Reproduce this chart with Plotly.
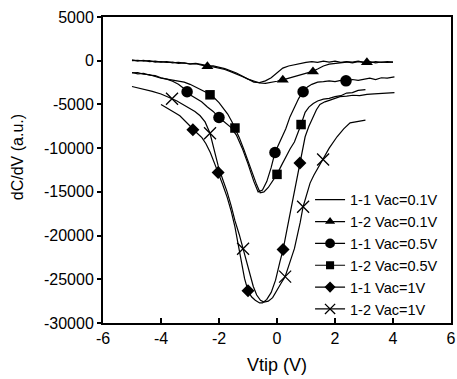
import plotly.graph_objects as go

# ---------------- data ----------------
x_11_01 = [-5.0,-4.8,-4.6,-4.4,-4.2,-4.0,-3.8,-3.6,-3.4,-3.2,-3.0,-2.8,-2.6,-2.4,-2.2,-2.0,-1.8,-1.6,-1.4,-1.2,-1.0,-0.8,-0.6,-0.4,-0.2,0.0,0.2,0.4,0.6,0.8,1.0,1.2,1.4,1.6,1.8,2.0,2.2,2.4,2.6,2.8,3.0,3.2,3.4,3.6,3.8,4.0]
y_11_01 = [100,-50,50,-100,-50,-150,-100,-250,-200,-300,-350,-300,-450,-550,-600,-750,-900,-1150,-1400,-1750,-2100,-2450,-2500,-2300,-1950,-1400,-850,-600,-450,-350,-200,-100,-200,-50,-150,-50,-200,-100,-150,-50,-200,-100,-250,-150,-200,-150]

x_12_01 = [-5.0,-4.8,-4.6,-4.4,-4.2,-4.0,-3.8,-3.6,-3.4,-3.2,-3.0,-2.8,-2.6,-2.4,-2.2,-2.0,-1.8,-1.6,-1.4,-1.2,-1.0,-0.8,-0.6,-0.4,-0.2,0.0,0.2,0.4,0.6,0.8,1.0,1.2,1.4,1.6,1.8,2.0,2.2,2.4,2.6,2.8,3.0,3.2,3.4,3.6,3.8,4.0]
y_12_01 = [0,50,-50,0,-150,-100,-200,-150,-300,-250,-400,-350,-500,-650,-700,-850,-1000,-1250,-1500,-1800,-2100,-2350,-2550,-2600,-2500,-2350,-2200,-2000,-1800,-1600,-1450,-1250,-950,-600,-400,-300,-250,-150,-250,-100,-200,-250,-100,-200,-100,-150]
mx_12_01 = [-2.4, 0.2, 1.24, 3.1]
my_12_01 = [-650, -2200, -1250, -200]

x_11_05 = [-5.0,-4.8,-4.6,-4.4,-4.2,-4.0,-3.8,-3.6,-3.4,-3.2,-3.0,-2.8,-2.6,-2.4,-2.2,-2.0,-1.8,-1.6,-1.4,-1.2,-1.0,-0.8,-0.65,-0.5,-0.35,-0.2,-0.07,0.1,0.3,0.45,0.6,0.75,0.9,1.05,1.2,1.4,1.6,1.8,2.0,2.2,2.4,2.6,2.8,3.0,3.2,3.4,3.6,3.8,4.05]
y_11_05 = [-1350,-1500,-1450,-1650,-1700,-1950,-2100,-2350,-2700,-3200,-3900,-4300,-4700,-5300,-5800,-6500,-7000,-7600,-8500,-10000,-11800,-13800,-15000,-14800,-13800,-12200,-10500,-9300,-7800,-6400,-5300,-4300,-3550,-3000,-2700,-2450,-2400,-2300,-2400,-2250,-2300,-2150,-2250,-2100,-2000,-2150,-1950,-2000,-1850]
mx_11_05 = [-3.1, -2.0, -0.07, 0.9, 2.38]
my_11_05 = [-3550, -6500, -10500, -3550, -2300]

x_12_05 = [-5.0,-4.8,-4.6,-4.4,-4.2,-4.0,-3.8,-3.6,-3.4,-3.2,-3.0,-2.8,-2.6,-2.45,-2.31,-2.15,-2.0,-1.85,-1.7,-1.55,-1.45,-1.3,-1.15,-1.0,-0.85,-0.7,-0.58,-0.45,-0.3,-0.15,0.0,0.15,0.3,0.45,0.6,0.72,0.83,0.97,1.1,1.25,1.4,1.6,1.8,2.0,2.2,2.4,2.6,2.8,3.05]
y_12_05 = [-1400,-1350,-1550,-1600,-1800,-2000,-2100,-2200,-2350,-2450,-2700,-3000,-3300,-3600,-3900,-4300,-4800,-5400,-6100,-7000,-7700,-8800,-10100,-11500,-12900,-14200,-15100,-15000,-14500,-13800,-13000,-12000,-11000,-10100,-9300,-8300,-7300,-5900,-5300,-4900,-4600,-4400,-4300,-4100,-4000,-3700,-3650,-3400,-3300]
mx_12_05 = [-2.31, -1.45, 0.0, 0.83]
my_12_05 = [-3900, -7700, -13000, -7300]

x_11_1 = [-4.0,-3.85,-3.7,-3.52,-3.35,-3.2,-3.05,-2.9,-2.75,-2.59,-2.45,-2.3,-2.15,-2.03,-1.88,-1.72,-1.58,-1.45,-1.35,-1.25,-1.12,-1.0,-0.88,-0.75,-0.6,-0.5,-0.35,-0.2,-0.05,0.1,0.21,0.35,0.45,0.55,0.67,0.79,0.88,0.97,1.1,1.24,1.36,1.48,1.65,1.83,2.0,2.17,2.4,2.62,2.85,3.1,3.35,3.6,3.85,4.05]
y_11_1 = [-5000,-5300,-5500,-5950,-6300,-6800,-7300,-7900,-8300,-8800,-9500,-10500,-11700,-12800,-14100,-15600,-17200,-19000,-20800,-22800,-24900,-26300,-27000,-27400,-27700,-27700,-27300,-26500,-25100,-23000,-21600,-19200,-17500,-15600,-13600,-11700,-10200,-8700,-7500,-6400,-5600,-5000,-4700,-4500,-4300,-4100,-4050,-3950,-4000,-3850,-3800,-3750,-3700,-3650]
mx_11_1 = [-2.9, -2.03, -1.0, 0.21, 0.79]
my_11_1 = [-7900, -12800, -26300, -21600, -11700]

x_12_1 = [-5.0,-4.8,-4.55,-4.3,-4.0,-3.8,-3.62,-3.45,-3.24,-3.05,-2.83,-2.65,-2.48,-2.31,-2.18,-2.03,-1.88,-1.72,-1.58,-1.45,-1.3,-1.17,-1.05,-0.95,-0.82,-0.7,-0.57,-0.45,-0.3,-0.15,0.0,0.15,0.28,0.4,0.5,0.6,0.69,0.8,0.9,1.02,1.14,1.27,1.4,1.59,1.8,2.07,2.3,2.52,2.8,3.05]
y_12_1 = [-2950,-3100,-3300,-3500,-3800,-4050,-4350,-4600,-5000,-5300,-5800,-6300,-7000,-8300,-10000,-12000,-13500,-15000,-16600,-18300,-19900,-21500,-23200,-24500,-25800,-26800,-27400,-27600,-27500,-27100,-26200,-25400,-24700,-23600,-22500,-21500,-20300,-18500,-16700,-15300,-14000,-13100,-12300,-11300,-10000,-8700,-7800,-7100,-6900,-6800]
mx_12_1 = [-3.62, -2.31, -1.17, 0.28, 0.9, 1.59]
my_12_1 = [-4350, -8300, -21500, -24700, -16700, -11300]

series_names = ["1-1 Vac=0.1V", "1-2 Vac=0.1V", "1-1 Vac=0.5V",
                "1-2 Vac=0.5V", "1-1 Vac=1V", "1-2 Vac=1V"]

x_tickvals = [-6, -4, -2, 0, 2, 4, 6]
x_ticktext = ["-6", "-4", "-2", "0", "2", "4", "6"]
y_tickvals = [5000, 0, -5000, -10000, -15000, -20000, -25000, -30000]
y_ticktext = ["5000", "0", "-5000", "-10000", "-15000", "-20000", "-25000", "-30000"]

# ---------------- figure ----------------
FONT = "Arial, 'Liberation Sans', sans-serif"
BLACK = "black"
LW = 1.2

curves = [
    (x_11_01, y_11_01, None, None, None, None),
    (x_12_01, y_12_01, mx_12_01, my_12_01, "triangle-up", 10.5),
    (x_11_05, y_11_05, mx_11_05, my_11_05, "circle", 11.5),
    (x_12_05, y_12_05, mx_12_05, my_12_05, "square", 9.5),
    (x_11_1, y_11_1, mx_11_1, my_11_1, "diamond", 10),
    (x_12_1, y_12_1, mx_12_1, my_12_1, "x-thin", 12),
]

fig = go.Figure()
for name, (cx, cy, mx, my, sym, size) in zip(series_names, curves):
    fig.add_trace(go.Scatter(x=cx, y=cy, mode="lines",
                             line=dict(color=BLACK, width=LW),
                             showlegend=False, hoverinfo="skip"))
    if mx is not None:
        mk = dict(symbol=sym, size=size, color=BLACK,
                  line=dict(color=BLACK, width=1.3 if sym == "x-thin" else 0))
        fig.add_trace(go.Scatter(x=mx, y=my, mode="markers", marker=mk,
                                 showlegend=False, hoverinfo="skip"))
    # legend entry
    if mx is None:
        fig.add_trace(go.Scatter(x=[None], y=[None], mode="lines", name=name,
                                 line=dict(color=BLACK, width=LW)))
    else:
        fig.add_trace(go.Scatter(x=[None], y=[None], mode="lines+markers", name=name,
                                 line=dict(color=BLACK, width=LW),
                                 marker=dict(symbol=sym, size=size * 0.85, color=BLACK,
                                             line=dict(color=BLACK, width=1.3 if sym == "x-thin" else 0))))

axis_common = dict(showgrid=False, zeroline=False, showline=True, linecolor=BLACK,
                   linewidth=2, mirror=True, tickcolor=BLACK, tickwidth=1.5,
                   tickfont=dict(family=FONT, size=16, color=BLACK))

fig.update_xaxes(range=[-6, 6], tickvals=x_tickvals, ticktext=x_ticktext,
                 ticks="inside", ticklen=5, **axis_common)
fig.update_yaxes(range=[-30000, 5000], tickvals=y_tickvals, ticktext=y_ticktext,
                 ticks="outside", ticklen=4, **axis_common)

fig.update_layout(
    width=457, height=379,
    margin=dict(l=103, r=6, t=17, b=56, autoexpand=False),
    paper_bgcolor="white", plot_bgcolor="white",
    font=dict(family=FONT, color=BLACK),
    legend=dict(x=0.595, y=0.455, xanchor="left", yanchor="top",
                bgcolor="rgba(0,0,0,0)", borderwidth=0,
                font=dict(family=FONT, size=14.5, color=BLACK),
                itemwidth=30, tracegroupgap=0),
    annotations=[
        dict(text="Vtip (V)", xref="paper", yref="paper", x=0.5, y=-0.137,
             xanchor="center", yanchor="middle", showarrow=False,
             font=dict(family=FONT, size=18, color=BLACK)),
        dict(text="dC/dV (a.u.)", xref="paper", yref="paper", x=-0.247, y=0.542,
             xanchor="center", yanchor="middle", textangle=-90, showarrow=False,
             font=dict(family=FONT, size=16, color=BLACK)),
    ],
)

fig.write_html("out.html", config={"displayModeBar": False},
               post_script="document.body.style.margin='0px';document.body.style.overflow='hidden';")
